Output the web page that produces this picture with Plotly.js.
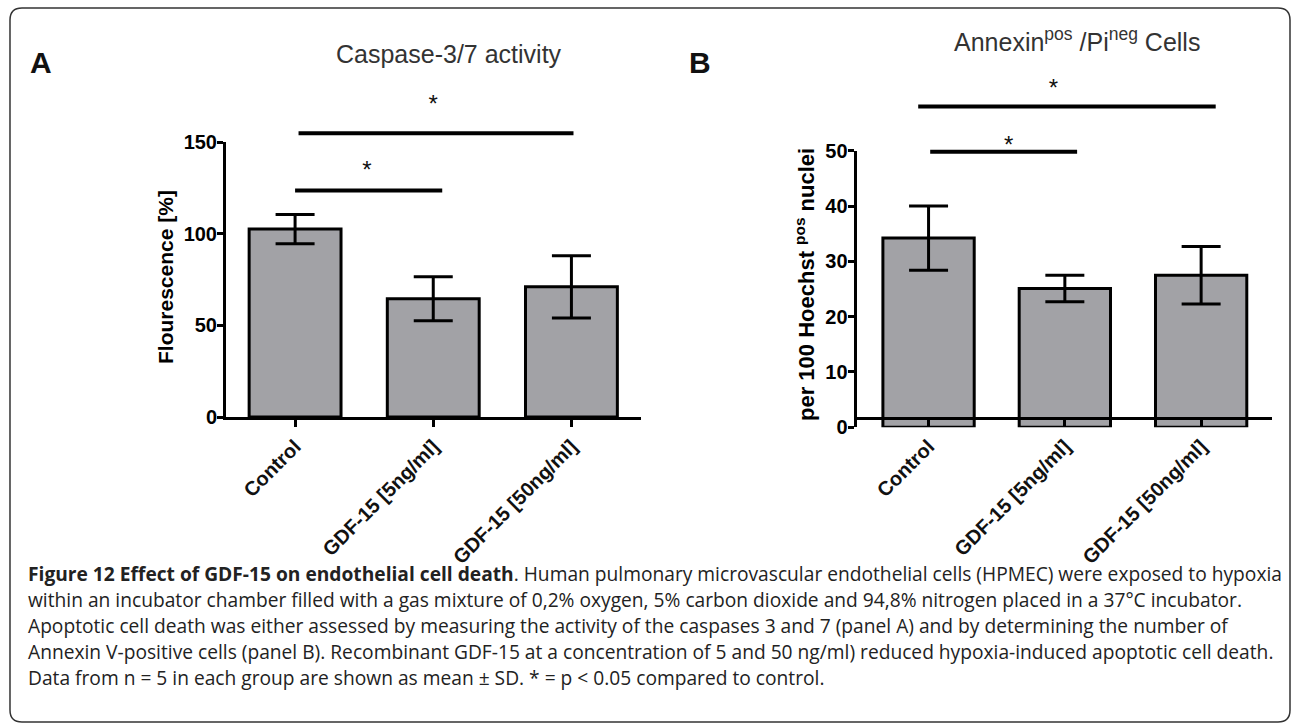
<!DOCTYPE html>
<html><head><meta charset="utf-8">
<script src="https://cdn.plot.ly/plotly-3.0.1.min.js"></script>
<style>html,body{margin:0;padding:0;background:#fff;} #chart{width:1293px;height:725px;}</style>
</head><body><div id="chart"></div>
<script>
// ---------- data ----------
const categories = ['Control', 'GDF-15 [5ng/ml]', 'GDF-15 [50ng/ml]'];
const catPos = [0, 1, 2];

const caspaseMean = [102.5, 64.5, 71];
const caspaseSD = [8, 12, 17];
const caspaseTicks = [0, 50, 100, 150];

const annexinMean = [34.2, 25.1, 27.5];
const annexinSD = [5.8, 2.4, 5.2];
const annexinTicks = [0, 10, 20, 30, 40, 50];

// significance brackets (start, end in category units; height in data units)
const sigAx0 = [0, 0.025];
const sigAx1 = [1.065, 2.015];
const sigAy = [123.5, 154.8];
const starAx = [0.52, 1.0];
const starAy = [133.8, 169.8];

const sigBx0 = [0.012, -0.076];
const sigBx1 = [1.09, 2.107];
const sigBy = [49.8, 58.0];
const starBx = [0.587, 0.916];
const starBy = [50.6, 60.9];

const captionLines = [
  '<b>Figure 12 Effect of GDF-15 on endothelial cell death</b>. Human pulmonary microvascular endothelial cells (HPMEC) were exposed to hypoxia',
  'within an incubator chamber filled with a gas mixture of 0,2% oxygen, 5% carbon dioxide and 94,8% nitrogen placed in a 37°C incubator.',
  'Apoptotic cell death was either assessed by measuring the activity of the caspases 3 and 7 (panel A) and by determining the number of',
  'Annexin V-positive cells (panel B). Recombinant GDF-15 at a concentration of 5 and 50 ng/ml) reduced hypoxia-induced apoptotic cell death.',
  'Data from n = 5 in each group are shown as mean ± SD. * = p < 0.05 compared to control.'
];

// ---------- layout helpers ----------
const W = 1293, H = 725;
const px = v => v / W;
const py = v => 1 - v / H;
const FONT = 'Liberation Sans, Arial, sans-serif';

const domAx = [px(226), px(640.5)], domAy = [py(417), py(142)];
const domBx = [px(856.6), px(1272)], domBy = [py(427.3), py(150.7)];
const helperTop = 0.99;
const helperAmax = 150 * (helperTop - domAy[0]) / (domAy[1] - domAy[0]);
const helperBmax = 50 * (helperTop - domBy[0]) / (domBy[1] - domBy[0]);

const barColor = '#a2a2a6';
const errStyle = {type: 'data', visible: true, color: '#000', thickness: 3, width: 19.5};

const traces = [
  {type: 'bar', x: catPos, y: caspaseMean, error_y: Object.assign({array: caspaseSD}, errStyle),
   width: 0.665, marker: {color: barColor, line: {color: '#000', width: 3}}, xaxis: 'x', yaxis: 'y', hoverinfo: 'skip'},
  {type: 'bar', x: catPos, y: annexinMean, error_y: Object.assign({array: annexinSD}, errStyle),
   width: 0.67, marker: {color: barColor, line: {color: '#000', width: 3}}, xaxis: 'x2', yaxis: 'y2', hoverinfo: 'skip'}
];
sigAy.forEach((v, i) => traces.push({type: 'scatter', mode: 'lines', x: [sigAx0[i], sigAx1[i]], y: [v, v],
  line: {color: '#000', width: 4}, xaxis: 'x', yaxis: 'y3', hoverinfo: 'skip'}));
sigBy.forEach((v, i) => traces.push({type: 'scatter', mode: 'lines', x: [sigBx0[i], sigBx1[i]], y: [v, v],
  line: {color: '#000', width: 4}, xaxis: 'x2', yaxis: 'y4', hoverinfo: 'skip'}));
traces.push({type: 'scatter', mode: 'text', x: starAx, y: starAy, text: starAx.map(() => '*'),
  textposition: 'middle center', textfont: {family: FONT, size: 24, color: '#111'}, xaxis: 'x', yaxis: 'y3', hoverinfo: 'skip'});
traces.push({type: 'scatter', mode: 'text', x: starBx, y: starBy, text: starBx.map(() => '*'),
  textposition: 'middle center', textfont: {family: FONT, size: 24, color: '#111'}, xaxis: 'x2', yaxis: 'y4', hoverinfo: 'skip'});

function xAxis(domain, range) {
  return {domain: domain, range: range, tickvals: catPos, ticktext: categories, tickangle: -45,
    ticks: 'outside', ticklen: 7, tickwidth: 3, tickcolor: '#000', showline: true, linecolor: '#000', linewidth: 3,
    showgrid: false, zeroline: false, fixedrange: true,
    tickfont: {family: FONT, size: 20, color: '#111', weight: 'bold'}};
}
function yAxis(domain, range, ticks, anchor) {
  return {domain: domain, range: range, tickvals: ticks, anchor: anchor,
    ticks: 'outside', ticklen: 6, tickwidth: 3, tickcolor: '#000', showline: true, linecolor: '#000', linewidth: 3,
    showgrid: false, zeroline: false, fixedrange: true, ticklabelstandoff: -4,
    tickfont: {family: FONT, size: 20, color: '#000', weight: 'bold'}};
}
function helperAxis(domain, max, anchor) {
  return {domain: [domain, helperTop], range: [0, max], anchor: anchor, visible: false, fixedrange: true, showgrid: false, zeroline: false};
}

// frame path (rounded rectangle)
function roundRect(x0, y0, x1, y1, r) {
  const X = v => px(v).toFixed(5), Y = v => py(v).toFixed(5);
  return `M ${X(x0 + r)},${Y(y0)} L ${X(x1 - r)},${Y(y0)} Q ${X(x1)},${Y(y0)} ${X(x1)},${Y(y0 + r)} ` +
         `L ${X(x1)},${Y(y1 - r)} Q ${X(x1)},${Y(y1)} ${X(x1 - r)},${Y(y1)} L ${X(x0 + r)},${Y(y1)} ` +
         `Q ${X(x0)},${Y(y1)} ${X(x0)},${Y(y1 - r)} L ${X(x0)},${Y(y0 + r)} Q ${X(x0)},${Y(y0)} ${X(x0 + r)},${Y(y0)} Z`;
}

const annotations = [
  {text: 'A', x: px(41), y: py(63), font: {family: FONT, size: 30, color: '#111', weight: 'bold'}},
  {text: 'B', x: px(700), y: py(63), font: {family: FONT, size: 30, color: '#111', weight: 'bold'}},
  {text: 'Caspase-3/7 activity', x: px(449), y: py(54), font: {family: FONT, size: 25, color: '#333'}},
  {text: 'Annexin<sup>pos</sup> /Pi<sup>neg</sup> Cells', x: px(1077), y: py(40), font: {family: FONT, size: 25, color: '#333'}},
  {text: 'Flourescence [%]', x: px(165), y: py(277), textangle: -90, font: {family: FONT, size: 21, color: '#000', weight: 'bold'}},
  {text: 'per 100 Hoechst <sup>pos</sup> nuclei', x: px(805), y: py(285), textangle: -90, font: {family: FONT, size: 22, color: '#000', weight: 'bold'}}
].map(a => Object.assign({xref: 'paper', yref: 'paper', showarrow: false, xanchor: 'center', yanchor: 'middle'}, a));

const capY = [573, 599, 625, 651, 677];
captionLines.forEach((t, i) => annotations.push({text: t, xref: 'paper', yref: 'paper', x: px(26), y: py(capY[i]),
  xanchor: 'left', yanchor: 'middle', showarrow: false, font: {family: 'Open Sans, sans-serif', size: 19.2, color: '#222'}}));

const layout = {
  width: W, height: H, margin: {l: 0, r: 0, t: 0, b: 0}, showlegend: false,
  paper_bgcolor: '#fff', plot_bgcolor: 'rgba(0,0,0,0)',
  xaxis: xAxis(domAx, [-0.5, 2.5]),
  yaxis: yAxis(domAy, [0, 150], caspaseTicks, 'x'),
  xaxis2: xAxis(domBx, [-0.528, 2.52]),
  yaxis2: yAxis(domBy, [0, 50], annexinTicks, 'x2'),
  yaxis3: helperAxis(domAy[0], helperAmax, 'x'),
  yaxis4: helperAxis(domBy[0], helperBmax, 'x2'),
  annotations: annotations,
  shapes: [{type: 'path', xref: 'paper', yref: 'paper', path: roundRect(10, 8, 1290, 722, 12),
    line: {color: '#333', width: 1.5}, fillcolor: 'rgba(0,0,0,0)'}]
};

Plotly.newPlot('chart', traces, layout, {displayModeBar: false, staticPlot: true});
</script></body></html>
